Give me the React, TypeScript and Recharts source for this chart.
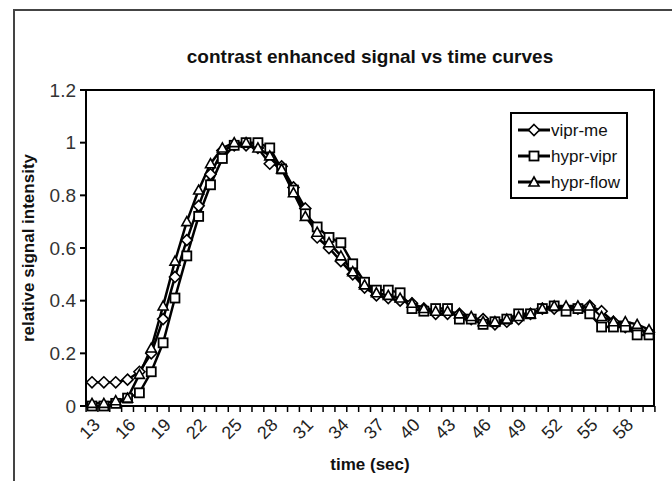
import React from "react";
import { LineChart, Line, XAxis, YAxis } from "recharts";

const times = [13,14,15,16,17,18,19,20,21,22,23,24,25,26,27,28,29,30,31,32,33,34,35,36,37,38,39,40,41,42,43,44,45,46,47,48,49,50,51,52,53,54,55,56,57,58,59,60];
const viprMe = [0.09,0.09,0.09,0.10,0.13,0.20,0.33,0.49,0.63,0.76,0.88,0.97,0.99,0.99,0.98,0.92,0.91,0.83,0.75,0.64,0.60,0.55,0.50,0.45,0.42,0.41,0.40,0.39,0.37,0.35,0.35,0.35,0.33,0.33,0.31,0.32,0.33,0.35,0.37,0.37,0.37,0.37,0.38,0.36,0.32,0.30,0.29,0.28];
const hyprVipr = [0.0,0.0,0.01,0.03,0.05,0.13,0.24,0.41,0.57,0.72,0.84,0.94,0.99,1.0,1.0,0.98,0.90,0.82,0.73,0.68,0.64,0.62,0.54,0.47,0.44,0.44,0.43,0.37,0.36,0.37,0.37,0.33,0.33,0.31,0.32,0.33,0.35,0.35,0.37,0.38,0.36,0.37,0.35,0.30,0.30,0.30,0.27,0.27];
const hyprFlow = [0.01,0.01,0.02,0.03,0.12,0.22,0.38,0.55,0.70,0.82,0.92,0.98,1.0,1.0,0.98,0.95,0.90,0.81,0.72,0.66,0.62,0.57,0.51,0.46,0.43,0.42,0.41,0.39,0.37,0.36,0.36,0.35,0.34,0.32,0.32,0.33,0.34,0.35,0.37,0.38,0.38,0.38,0.38,0.34,0.32,0.32,0.31,0.29];
const yTicks = [0, 0.2, 0.4, 0.6, 0.8, 1, 1.2];
const seriesNames = ["vipr-me", "hypr-vipr", "hypr-flow"];

const data = times.map((t, i) => ({ t, a: viprMe[i], b: hyprVipr[i], c: hyprFlow[i] }));

const FONT = "'Liberation Sans', Arial, sans-serif";

const shape = (kind: string, cx: number, cy: number, key?: any) => {
  if (cx == null || cy == null) return <g key={key} />;
  if (kind === "diamond") {
    const r = 5.5;
    return <path key={key} d={`M${cx},${cy - r}L${cx + r},${cy}L${cx},${cy + r}L${cx - r},${cy}Z`} fill="#fff" stroke="#000" strokeWidth={1.6} />;
  }
  if (kind === "square") {
    const r = 4.5;
    return <rect key={key} x={cx - r} y={cy - r} width={2 * r} height={2 * r} fill="#fff" stroke="#000" strokeWidth={1.8} />;
  }
  const r = 5;
  return <path key={key} d={`M${cx},${cy - r}L${cx + r},${cy + r * 0.8}L${cx - r},${cy + r * 0.8}Z`} fill="#fff" stroke="#000" strokeWidth={1.6} />;
};

const mkDot = (kind: string) => (p: any) => shape(kind, p.cx, p.cy, p.index);

const AXIS_Y = 406;

const XTick = (p: any) => {
  const { x, payload, index } = p;
  const half = 5.92;
  const ay = AXIS_Y;
  const tx = x + 9;
  const ty = ay + 20;
  return (
    <g>
      {index === 0 && <line x1={x - half} y1={ay} x2={x - half} y2={ay + 6} stroke="#000" strokeWidth={1.5} />}
      <line x1={x + half} y1={ay} x2={x + half} y2={ay + 6} stroke="#000" strokeWidth={1.5} />
      {index % 3 === 0 && (
        <text x={tx} y={ty} transform={`rotate(-45 ${tx} ${ty})`} textAnchor="end" fontSize={18} fill="#222" fontFamily={FONT}>
          {payload.value}
        </text>
      )}
    </g>
  );
};

const LegendBox = () => {
  const kinds = ["diamond", "square", "triangle"];
  return (
    <svg style={{ position: "absolute", left: 510, top: 112 }} width={119} height={88}>
      <rect x={1} y={1} width={116} height={85} fill="#fff" stroke="#000" strokeWidth={2} />
      {kinds.map((k, i) => {
        const cy = 18 + i * 26;
        return (
          <g key={k}>
            <line x1={8} y1={cy} x2={40} y2={cy} stroke="#000" strokeWidth={3} />
            {shape(k, 24, cy)}
            <text x={41} y={cy + 6} fontSize={17} fontFamily={FONT} fill="#111">{seriesNames[i]}</text>
          </g>
        );
      })}
    </svg>
  );
};

export default function App() {
  return (
    <div style={{ position: "absolute", left: 0, top: 0, width: 672, height: 481, background: "#fff", overflow: "hidden", fontFamily: FONT }}>
      <div style={{ position: "absolute", left: 13, top: 9, width: 700, height: 500, border: "2px solid #444" }} />
      <div style={{ position: "absolute", left: 70, top: 46, width: 600, textAlign: "center", fontWeight: "bold", fontSize: 19, color: "#111" }}>
        contrast enhanced signal vs time curves
      </div>
      <div style={{ position: "absolute", left: 86, top: 89, width: 569, height: 317, border: "2px solid #000", borderLeft: "none", borderBottom: "none", boxSizing: "border-box" }} />
      <LineChart width={672} height={481} data={data} margin={{ top: 90, right: 17, bottom: 0, left: 0 }} style={{ position: "absolute", left: 0, top: 0 }}>
        <XAxis dataKey="t" height={75} interval={0} padding={{ left: 6, right: 6 }} tickLine={false} tick={<XTick />} axisLine={{ stroke: "#000", strokeWidth: 2 }} tickSize={8} tickMargin={0} />
        <YAxis width={86} domain={[0, 1.2]} ticks={yTicks} tickFormatter={(v: number) => String(v)} tick={{ fill: "#333", fontSize: 19, fontFamily: FONT }} tickLine={{ stroke: "#000", strokeWidth: 2 }} tickSize={6} tickMargin={4} axisLine={{ stroke: "#000", strokeWidth: 2 }} interval={0} />
        <Line dataKey="a" stroke="#000" strokeWidth={2.5} dot={mkDot("diamond")} isAnimationActive={false} />
        <Line dataKey="b" stroke="#000" strokeWidth={2.5} dot={mkDot("square")} isAnimationActive={false} />
        <Line dataKey="c" stroke="#000" strokeWidth={2.5} dot={mkDot("triangle")} isAnimationActive={false} />
      </LineChart>
      <div style={{ position: "absolute", left: 270, top: 455, width: 200, textAlign: "center", fontWeight: "bold", fontSize: 17, color: "#111" }}>time (sec)</div>
      <div style={{ position: "absolute", left: 30 - 130, top: 248 - 11, width: 260, height: 22, textAlign: "center", fontWeight: "bold", fontSize: 17, color: "#111", transform: "rotate(-90deg)" }}>relative signal intensity</div>
      <LegendBox />
    </div>
  );
}
